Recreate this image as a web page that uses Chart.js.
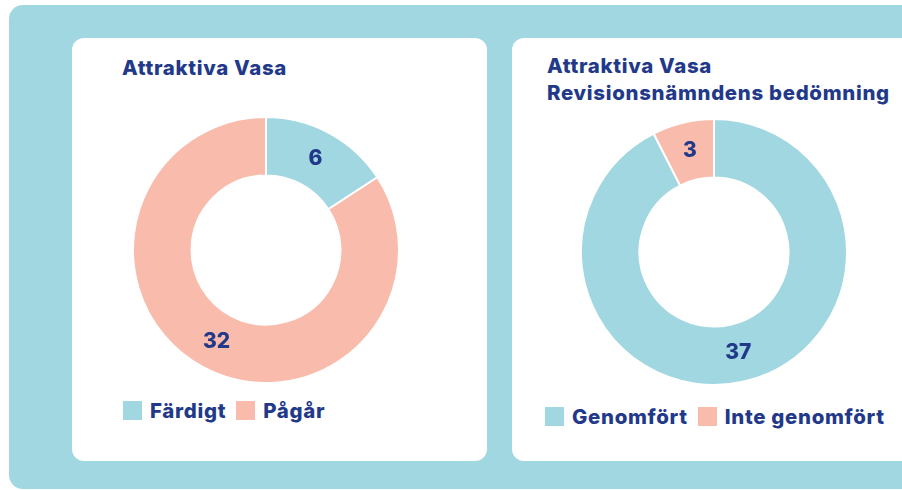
<!DOCTYPE html>
<html>
<head>
<meta charset="utf-8">
<script src="https://cdn.jsdelivr.net/npm/chart.js@4.4.0/dist/chart.umd.min.js"></script>
<style>
  body { margin: 0; width: 902px; height: 490px; overflow: hidden; background: #fff; font-family: Inter, "Open Sans", sans-serif; }
  #bg { position: absolute; left: 9px; top: 5px; width: 920px; height: 484px; background: #a0d7e1; border-radius: 14px; }
  .card { position: absolute; top: 38px; height: 423px; width: 415px; background: #fff; border-radius: 12px; }
  .titel { position: absolute; color: #22398a; font-weight: 800; font-size: 20.4px; letter-spacing: 0.7px; line-height: 27px; white-space: nowrap; }
  .legend { position: absolute; display: flex; align-items: center; color: #22398a; font-weight: 800; font-size: 20.4px; letter-spacing: 0.7px; white-space: nowrap; }
  .legend .box { width: 19px; height: 19px; margin-right: 8px; }
  .legend .item { display: flex; align-items: center; margin-right: 10px; }
  .wrap { position: absolute; width: 268px; height: 268px; }
</style>
</head>
<body>
<div id="bg"></div>
<div class="card" style="left:72px"></div>
<div class="card" style="left:512px"></div>

<div class="titel" style="left:122px; top:54px">Attraktiva Vasa</div>
<div class="titel" style="left:547px; top:52px">Attraktiva Vasa<br>Revisionsnämndens bedömning</div>

<div class="wrap" style="left:132px; top:116px"><canvas id="chart1"></canvas></div>
<div class="wrap" style="left:580px; top:118px"><canvas id="chart2"></canvas></div>

<div class="legend" id="legend1" style="left:123px; top:398px"></div>
<div class="legend" id="legend2" style="left:545px; top:404px"></div>

<script>
// data
const labels1 = ["Färdigt", "Pågår"];
const values1 = [6, 32];
const labels2 = ["Genomfört", "Inte genomfört"];
const values2 = [37, 3];
const farger = ["#a0d7e1", "#f8bbac"];
const navy = "#22398a";

// siffror i mitten av varje bit
const sliceLabels = {
  id: 'sliceLabels',
  afterDatasetsDraw(chart) {
    const ctx = chart.ctx;
    const meta = chart.getDatasetMeta(0);
    ctx.save();
    ctx.font = "800 21px Inter, 'Open Sans', sans-serif";
    ctx.fillStyle = navy;
    ctx.textAlign = "center";
    ctx.textBaseline = "middle";
    meta.data.forEach((arc, i) => {
      const p = arc.tooltipPosition();
      ctx.fillText(chart.data.datasets[0].data[i], p.x, p.y);
    });
    ctx.restore();
  }
};

function ritaMunk(id, labels, values) {
  return new Chart(document.getElementById(id), {
    type: 'doughnut',
    data: {
      labels: labels,
      datasets: [{
        data: values,
        backgroundColor: farger,
        borderColor: '#ffffff',
        borderWidth: 2
      }]
    },
    options: {
      responsive: true,
      maintainAspectRatio: false,
      animation: false,
      cutout: '56%',
      layout: { padding: 0 },
      plugins: {
        legend: { display: false },
        tooltip: { enabled: false }
      }
    },
    plugins: [sliceLabels]
  });
}

function ritaLegend(id, labels) {
  const el = document.getElementById(id);
  labels.forEach((txt, i) => {
    const item = document.createElement('div');
    item.className = 'item';
    const box = document.createElement('div');
    box.className = 'box';
    box.style.background = farger[i];
    const span = document.createElement('span');
    span.textContent = txt;
    item.appendChild(box);
    item.appendChild(span);
    el.appendChild(item);
  });
}

ritaMunk('chart1', labels1, values1);
ritaMunk('chart2', labels2, values2);
ritaLegend('legend1', labels1);
ritaLegend('legend2', labels2);
</script>
</body>
</html>
